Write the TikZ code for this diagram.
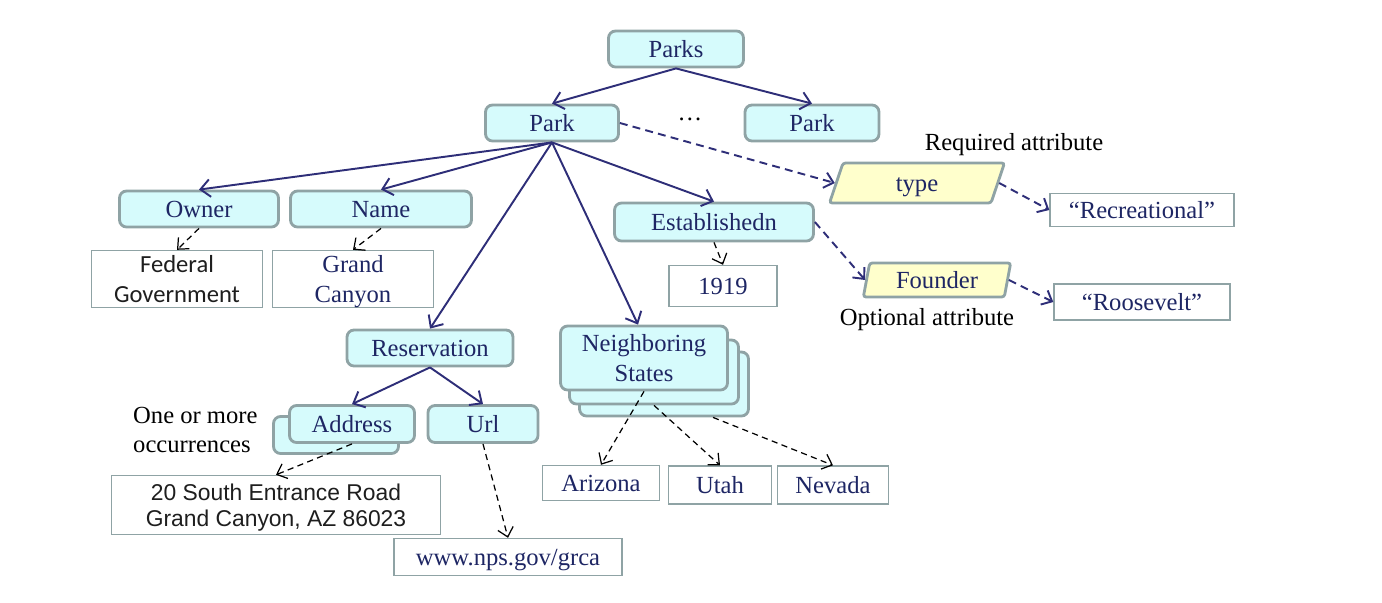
\documentclass[tikz,border=0pt]{standalone}
\usepackage{fontspec}
\setmainfont{Liberation Serif}
\newfontfamily\calibri{Carlito}
\newfontfamily\arial{Liberation Sans}
\usepackage{tikz}
\usetikzlibrary{arrows.meta,shapes.geometric}

\definecolor{elemfill}{RGB}{214,251,252}
\definecolor{attrfill}{RGB}{255,255,204}
\definecolor{boxline}{RGB}{143,163,165}
\definecolor{navy}{RGB}{30,38,100}
\definecolor{navyline}{RGB}{46,46,120}
\definecolor{darktext}{RGB}{30,30,30}

\tikzset{
  elem/.style={draw=boxline, line width=1.6pt, fill=elemfill, rounded corners=4pt,
    text=navy, font=\fontsize{14}{17}\selectfont, align=center, inner sep=0pt,
    text height=9.5pt, text depth=0pt},
  attr/.style={trapezium, trapezium left angle=77, trapezium right angle=103,
    trapezium stretches=true, draw=boxline, line width=1.6pt, fill=attrfill,
    rounded corners=1.5pt, text=navy, font=\fontsize{14}{17}\selectfont, inner sep=0pt,
    text height=9.5pt, text depth=0pt},
  val/.style={draw=boxline, line width=0.8pt, fill=white, text=navy,
    font=\fontsize{14}{17}\selectfont, align=center, inner sep=0pt,
    text height=9.5pt, text depth=0pt},
  twoline/.style={text height=26.5pt},
  note/.style={text=black, font=\fontsize{14}{17}\selectfont},
  tree/.style={draw=navyline, line width=1.1pt, -{Straight Barb[length=5.5pt,width=10pt]}},
  attrlink/.style={draw=navyline, line width=1.1pt, dash pattern=on 4.5pt off 3pt,
    -{Straight Barb[length=5pt,width=9pt]}},
  vallink/.style={draw=black, line width=0.7pt, dash pattern=on 3.5pt off 2.5pt,
    -{Straight Barb[length=5pt,width=9pt]}}
}

\begin{document}
\begin{tikzpicture}[x=0.02cm,y=-0.02cm]
\useasboundingbox (0,0) rectangle (1382,602);

% Top of the tree
\node[elem, minimum width=2.7cm, minimum height=0.72cm] (parks) at (676,49) {Parks};
\node[elem, minimum width=2.66cm, minimum height=0.72cm] (park) at (552,123) {Park};
\node[elem, minimum width=2.68cm, minimum height=0.72cm] (parkb) at (812,123) {Park};
\node[note] (dots) at (690,119) {\dots};

% Children of Park
\node[elem, minimum width=3.18cm, minimum height=0.72cm] (owner) at (199,209) {Owner};
\node[elem, minimum width=3.62cm, minimum height=0.72cm] (name) at (381,209) {Name};
\node[elem, minimum width=3.98cm, minimum height=0.76cm] (estab) at (714,222) {Establishedn};
\node[elem, minimum width=3.32cm, minimum height=0.72cm] (reserv) at (430,348) {Reservation};

% stacked copies, back to front
\node[elem, minimum width=3.38cm, minimum height=1.28cm] (neigh3) at (664,384) {};
\node[elem, minimum width=3.38cm, minimum height=1.28cm] (neigh2) at (654,372) {};
\node[elem, twoline, minimum width=3.34cm, minimum height=1.28cm] (neigh) at (644,358) {Neighboring\\States};
\node[elem, minimum width=2.5cm, minimum height=0.74cm] (addrback) at (336,435) {};
\node[elem, minimum width=2.5cm, minimum height=0.74cm] (address) at (352,424) {Address};
\node[elem, minimum width=2.2cm, minimum height=0.74cm] (url) at (483,424) {Url};

% Attributes
\node[attr, minimum width=3.5cm, minimum height=0.8cm] (type) at (917,183) {type};
\node[attr, minimum width=2.96cm, minimum height=0.68cm] (founder) at (937,280) {Founder};
\node[note] (reqtext) at (1014,145) {Required attribute};
\node[note] (opttext) at (927,320) {Optional attribute};
\node[note, align=left, anchor=west] (occtext) at (127,430) {One or more\\occurrences};

% Values
\node[val, twoline, text=darktext, font=\calibri\fontsize{14}{17}\selectfont,
  minimum width=3.42cm, minimum height=1.14cm] (federal) at (177,279) {Federal\\Government};
\node[val, twoline, minimum width=3.22cm, minimum height=1.14cm] (grand) at (353,279) {Grand\\Canyon};
\node[val, minimum width=2.16cm, minimum height=0.82cm] (year) at (723,286) {1919};
\node[val, minimum width=3.68cm, minimum height=0.66cm] (recr) at (1142,210) {``Recreational''};
\node[val, minimum width=3.52cm, minimum height=0.72cm] (roos) at (1142,302) {``Roosevelt''};
\node[val, text height=24.5pt, text=darktext, font=\arial\fontsize{13}{15}\selectfont,
  minimum width=6.58cm, minimum height=1.18cm] (south) at (276,505) {20 South Entrance Road\\Grand Canyon, AZ 86023};
\node[val, minimum width=4.56cm, minimum height=0.74cm] (www) at (508,557) {www.nps.gov/grca};
\node[val, minimum width=2.34cm, minimum height=0.7cm] (arizona) at (601,483) {Arizona};
\node[val, minimum width=2.06cm, minimum height=0.76cm] (utah) at (720,485) {Utah};
\node[val, minimum width=2.22cm, minimum height=0.76cm] (nevada) at (833,485) {Nevada};

% Tree edges
\draw[tree] (parks.south) -- (park.north);
\draw[tree] (parks.south) -- (parkb.north);
\draw[tree] (park.south) -- (owner.north);
\draw[tree] (park.south) -- (name.north);
\draw[tree] (park.south) -- (reserv.north);
\draw[tree] (park.south) -- ([xshift=-0.12cm]neigh.north);
\draw[tree] (park.south) -- (estab.north);
\draw[tree] (reserv.south) -- (address.north);
\draw[tree] (reserv.south) -- (url.north);

% Attribute links
\draw[attrlink] (park.east) -- (type.west);
\draw[attrlink] (estab.east) -- (founder.west);
\draw[attrlink] (type.east) -- (recr.west);
\draw[attrlink] (founder.east) -- (roos.west);

% Value links
\draw[vallink] (owner.south) -- (federal.north);
\draw[vallink] (name.south) -- (grand.north);
\draw[vallink] (estab.south) -- (year.north);
\draw[vallink] (address.south) -- (south.north);
\draw[vallink] (url.south) -- (www.north);
\draw[vallink] (neigh.south) -- (arizona.north);
\draw[vallink] (neigh2.south) -- (utah.north);
\draw[vallink] ([xshift=0.98cm]neigh3.south) -- (nevada.north);

\end{tikzpicture}
\end{document}
